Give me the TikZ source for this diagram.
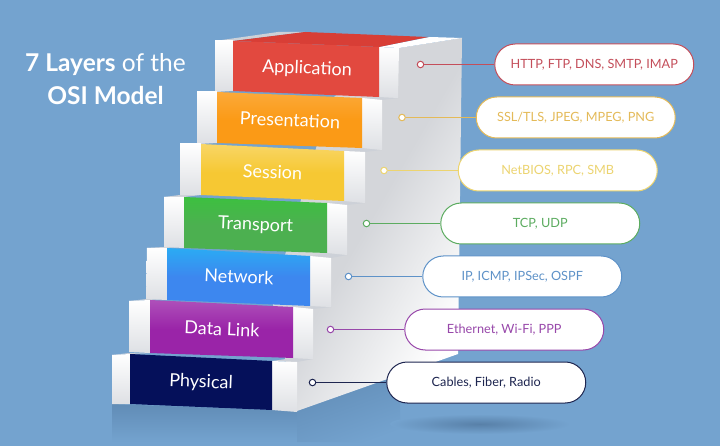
\documentclass[tikz,border=0pt]{standalone}
\usepackage{fontspec}
\setmainfont{Lato}
\usetikzlibrary{positioning, shapes.misc}

\definecolor{bgblue}{RGB}{116,163,207}
\definecolor{shadowblue}{RGB}{97,140,182}
\definecolor{ellipseblue}{RGB}{88,128,168}
\definecolor{wallgrey}{RGB}{212,214,218}
\definecolor{blockgrey}{RGB}{222,224,228}
\definecolor{treadgrey}{RGB}{205,209,216}
\definecolor{appred}{RGB}{226,73,63}
\definecolor{apptop}{RGB}{216,62,54}
\definecolor{presorange}{RGB}{251,154,22}
\definecolor{sessyellow}{RGB}{246,200,51}
\definecolor{transgreen}{RGB}{76,176,80}
\definecolor{netblue}{RGB}{61,135,239}
\definecolor{linkpurple}{RGB}{154,36,168}
\definecolor{physnavy}{RGB}{5,16,90}
\definecolor{txtred}{RGB}{196,78,90}
\definecolor{txtorange}{RGB}{228,186,88}
\definecolor{txtyellow}{RGB}{236,212,112}
\definecolor{txtgreen}{RGB}{92,172,96}
\definecolor{txtblue}{RGB}{94,146,200}
\definecolor{txtpurple}{RGB}{152,72,170}
\definecolor{txtnavy}{RGB}{30,38,80}

\tikzset{
    block/.style={top color=white, bottom color=blockgrey},
    tread/.style={fill=treadgrey},
    steplabel/.style={text=white, font=\fontsize{18}{20}\selectfont, rotate=-2.4},
    dot/.style={draw=#1, fill=white, circle, inner sep=0pt, minimum size=6.5pt, line width=1pt},
    pill/.style={draw=#1, text=#1, fill=white, rounded rectangle, inner sep=0pt, minimum width=199pt, minimum height=41pt, line width=1pt, font=\fontsize{12.7}{14}\selectfont},
    link/.style={draw=#1, line width=1pt}
}

\begin{document}
\begin{tikzpicture}[x=1pt, y=-1pt]
    \fill[bgblue] (0,0) rectangle (720,446);
    \useasboundingbox (0,0) rectangle (720,446);

    \shade[top color=shadowblue, bottom color=bgblue] (112,404) -- (297,411) -- (297,442) -- (112,442) -- cycle;
    \shade[top color=shadowblue, bottom color=bgblue, shading angle=20] (297,411) -- (400,374) -- (400,442) -- (297,442) -- cycle;
    \shade[inner color=ellipseblue, outer color=bgblue] (480,424) ellipse (90 and 10);

    \node[text=white, align=center, font=\fontsize{24.5}{33}\selectfont] (title) at (105.5,79) {\textbf{7 Layers} of the\\\textbf{OSI Model}};

    \shade[left color=wallgrey, right color=white, middle color=wallgrey, shading angle=60] (399,48) -- (462,38) -- (458,354) -- (297,411) -- (272,300) -- (330,100) -- cycle;
    \fill[white] (379,47) -- (430,37) -- (462,38) -- (399,48) -- cycle;
    \fill[treadgrey] (215,41) -- (278,32) -- (305,32) -- (233,41) -- cycle;

    \fill[tread] (362,98) -- (379,97) -- (399,98) -- (382,100) -- cycle;
    \fill[tread] (344,151) -- (362,148) -- (382,150) -- (365,152) -- cycle;
    \fill[tread] (327,203) -- (344,201) -- (365,203) -- (347,205) -- cycle;
    \fill[tread] (310,256) -- (327,253) -- (347,255) -- (331,258) -- cycle;
    \fill[tread] (293,307) -- (310,306) -- (331,307) -- (313,309) -- cycle;
    \fill[tread] (272,361) -- (293,358) -- (313,359) -- (297,362) -- cycle;
    \fill[tread] (197,92) -- (215,91) -- (233,91) -- (217,92) -- cycle;
    \fill[tread] (180,144) -- (197,143) -- (217,143) -- (201,144) -- cycle;
    \fill[tread] (164,197) -- (180,195) -- (201,195) -- (184,197) -- cycle;
    \fill[tread] (147,248) -- (164,247) -- (184,248) -- (167,248) -- cycle;
    \fill[tread] (129,301) -- (147,299) -- (167,300) -- (150,300) -- cycle;
    \fill[tread] (112,355) -- (129,353) -- (150,353) -- (130,354) -- cycle;

    \shade[block] (215,41) -- (233,41) -- (233,91) -- (215,91) -- cycle;
    \shade[block] (379,47) -- (399,48) -- (398,98) -- (379,97) -- cycle;
    \shade[block] (197,92) -- (217,92) -- (217,143) -- (197,143) -- cycle;
    \shade[block] (362,98) -- (382,100) -- (382,150) -- (362,148) -- cycle;
    \shade[block] (180,144) -- (201,144) -- (201,195) -- (180,195) -- cycle;
    \shade[block] (344,151) -- (365,152) -- (365,203) -- (344,201) -- cycle;
    \shade[block] (164,197) -- (184,197) -- (184,248) -- (164,247) -- cycle;
    \shade[block] (327,203) -- (347,205) -- (347,255) -- (327,253) -- cycle;
    \shade[block] (147,248) -- (167,248) -- (167,300) -- (146,299) -- cycle;
    \shade[block] (310,256) -- (331,258) -- (331,307) -- (310,306) -- cycle;
    \shade[block] (129,301) -- (150,300) -- (150,353) -- (129,352) -- cycle;
    \shade[block] (293,307) -- (313,309) -- (313,359) -- (293,358) -- cycle;
    \shade[block] (112,355) -- (130,354) -- (130,404) -- (112,404) -- cycle;
    \shade[block] (272,361) -- (297,362) -- (297,412) -- (272,410) -- cycle;

    \fill[apptop] (233,41) -- (305,32) -- (428,37) -- (379,47) -- cycle;
    \fill[appred] (233,41) -- (379,47) -- (379,97) -- (233,91) -- cycle;
    \shade[top color=presorange!85!white, bottom color=presorange, middle color=presorange] (217,92) -- (362,98) -- (362,148) -- (217,143) -- cycle;
    \shade[top color=sessyellow!75!white, bottom color=sessyellow, middle color=sessyellow] (201,144) -- (344,151) -- (344,201) -- (201,195) -- cycle;
    \shade[top color=green!20!transgreen, bottom color=transgreen, middle color=transgreen] (184,197) -- (327,203) -- (327,253) -- (184,248) -- cycle;
    \shade[top color=cyan!30!netblue, bottom color=netblue, middle color=netblue] (167,248) -- (310,256) -- (310,306) -- (167,300) -- cycle;
    \shade[top color=linkpurple!80!white, bottom color=linkpurple, middle color=linkpurple] (150,300) -- (293,307) -- (293,358) -- (150,353) -- cycle;
    \fill[physnavy] (130,354) -- (272,361) -- (272,410) -- (130,404) -- cycle;

    \node[steplabel] (app) at (307,69) {Application};
    \node[steplabel] (pres) at (290,120) {Presentation};
    \node[steplabel] (sess) at (272.5,172) {Session};
    \node[steplabel] (trans) at (255.5,225.5) {Transport};
    \node[steplabel] (net) at (239,276.5) {Network};
    \node[steplabel] (datalink) at (222,329) {Data Link};
    \node[steplabel] (phys) at (201,382.5) {Physical};

    \node[dot=txtred] (dotapp) at (420.5,64.5) {};
    \node[dot=txtorange] (dotpres) at (402,117.5) {};
    \node[dot=txtyellow] (dotsess) at (384,170.5) {};
    \node[dot=txtgreen] (dottrans) at (366.5,223.5) {};
    \node[dot=txtblue] (dotnet) at (348.5,276.5) {};
    \node[dot=txtpurple] (dotlink) at (330.5,329.5) {};
    \node[dot=txtnavy] (dotphys) at (312.5,382.5) {};

    \node[pill=txtred] (pillapp) [right=70pt of dotapp] {HTTP, FTP, DNS, SMTP, IMAP};
    \node[pill=txtorange] (pillpres) [right=70pt of dotpres] {SSL/TLS, JPEG, MPEG, PNG};
    \node[pill=txtyellow] (pillsess) [right=70pt of dotsess] {NetBIOS, RPC, SMB};
    \node[pill=txtgreen] (pilltrans) [right=70pt of dottrans] {TCP, UDP};
    \node[pill=txtblue] (pillnet) [right=70pt of dotnet] {IP, ICMP, IPSec, OSPF};
    \node[pill=txtpurple] (pilllink) [right=70pt of dotlink] {Ethernet, Wi-Fi, PPP};
    \node[pill=txtnavy] (pillphys) [right=70pt of dotphys] {Cables, Fiber, Radio};

    \draw[link=txtred] (dotapp) -- (pillapp);
    \draw[link=txtorange] (dotpres) -- (pillpres);
    \draw[link=txtyellow] (dotsess) -- (pillsess);
    \draw[link=txtgreen] (dottrans) -- (pilltrans);
    \draw[link=txtblue] (dotnet) -- (pillnet);
    \draw[link=txtpurple] (dotlink) -- (pilllink);
    \draw[link=txtnavy] (dotphys) -- (pillphys);
\end{tikzpicture}
\end{document}
